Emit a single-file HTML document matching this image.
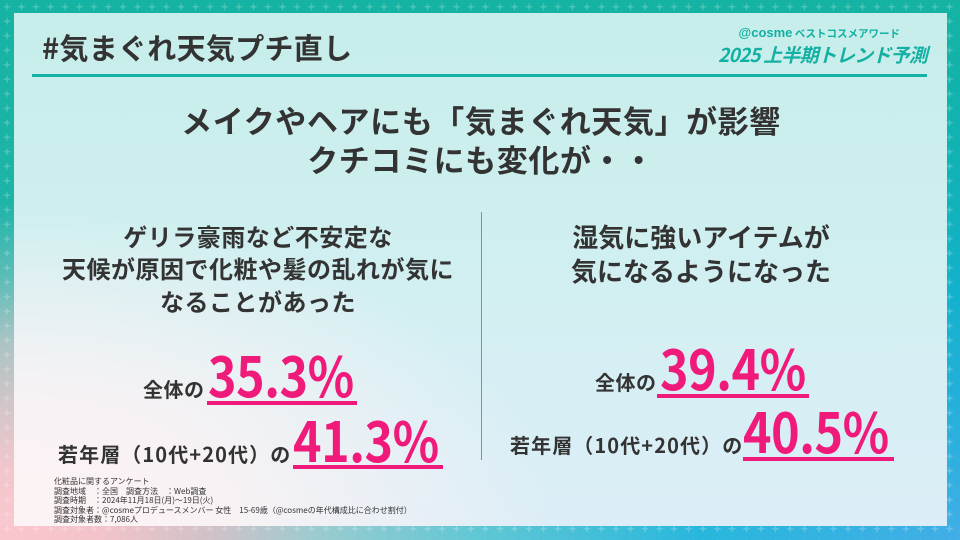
<!DOCTYPE html>
<html lang="ja">
<head>
<meta charset="utf-8">
<style>
  html,body{margin:0;padding:0;}
  body{width:960px;height:540px;position:relative;overflow:hidden;background:#15b3a3;
    font-family:"Liberation Sans","Noto Sans CJK JP",sans-serif;color:#333;}
  .b{position:absolute;}
  #btop{left:0;top:0;width:960px;height:14px;background:#15b3a3;}
  #bleft{left:0;top:0;width:15px;height:540px;background:linear-gradient(180deg,#15b3a3 0%,#1db4a7 37%,#5fbdb8 52%,#a9c4c4 63%,#cfc5c8 74%,#f2c6cc 87%,#fbc8ce 100%);}
  #bright{left:946px;top:0;width:14px;height:540px;background:linear-gradient(180deg,#15b3a3 0%,#10b2b4 30%,#14b1cd 55%,#2ab0dc 80%,#41aee6 100%);}
  #bbot{left:0;top:525px;width:960px;height:15px;background:linear-gradient(90deg,#fac6cd 0%,#f4c3ca 10%,#d0c2c8 22%,#9bcbd0 33%,#5fc7d4 50%,#28b7dc 73%,#41aee6 100%);}
  #spark{position:absolute;left:0;top:0;}
  #panel{position:absolute;left:14px;top:13px;width:933px;height:513px;overflow:hidden;
    background:linear-gradient(180deg,#c7eeeb 0%,#cdefee 35%,#d6eff4 70%,#dcedf7 100%);}
  #panel .ov{position:absolute;left:0;top:0;width:100%;height:100%;
    background:radial-gradient(ellipse 58% 62% at 0% 100%,rgba(253,243,244,1) 0%,rgba(253,243,244,0.85) 40%,rgba(253,243,244,0) 100%);}
  .jp{font-family:"Noto Sans CJK JP","Liberation Sans",sans-serif;font-weight:bold;white-space:nowrap;}
  .abs{position:absolute;}
  .pink{color:#ef1a7a;}
  .ul{position:absolute;height:4px;background:#ef1a7a;}
  .num{font-size:55px;line-height:55px;transform:scaleX(0.88);transform-origin:0 0;letter-spacing:-0.5px;}
  .lbl{font-size:20px;line-height:20px;letter-spacing:0.5px;}
  .lbl2{font-size:20px;line-height:20px;letter-spacing:1.1px;}
  .foot{position:absolute;left:54px;top:477px;font-family:"Noto Sans CJK JP","Liberation Sans",sans-serif;font-size:8px;line-height:9.5px;color:#333;white-space:nowrap;}
</style>
</head>
<body>
<div id="btop" class="b"></div>
<div id="bleft" class="b"></div>
<div id="bright" class="b"></div>
<div id="bbot" class="b"></div>
<svg id="spark" width="960" height="540" viewBox="0 0 960 540">
  <defs>
    <pattern id="st" x="0" y="0" width="14.5" height="14.5" patternUnits="userSpaceOnUse">
      <path d="M7 2.5 L8 5.8 L11.3 6.8 L8 7.8 L7 11.1 L6 7.8 L2.7 6.8 L6 5.8 Z" fill="#ffffff" fill-opacity="0.22"/>
    </pattern>
  </defs>
  <rect x="0" y="0" width="960" height="540" fill="url(#st)"/>
</svg>

<div id="panel"><div class="ov"></div></div>

<!-- header -->
<div class="abs jp" style="left:42px;top:32.5px;font-size:29px;line-height:29px;letter-spacing:0.3px;color:#333;">#気まぐれ天気プチ直し</div>
<div class="abs" style="left:32px;top:74px;width:895px;height:3px;background:#14b3a5;"></div>

<div class="abs jp" style="right:60px;top:27px;font-size:10.5px;line-height:12px;color:#14b0a3;"><span style="font-family:'Liberation Sans',sans-serif;font-size:13px;">@cosme</span> ベストコスメアワード</div>
<div class="abs jp" style="right:33px;top:45px;font-size:19px;line-height:19px;letter-spacing:-0.8px;color:#14b0a3;font-style:italic;">2025 上半期トレンド予測</div>

<!-- headline -->
<div class="abs jp" style="left:0;top:100px;width:962px;text-align:center;font-size:31px;line-height:39px;letter-spacing:0.6px;color:#333;">メイクやヘアにも「気まぐれ天気」が影響<br>クチコミにも変化が・・</div>

<!-- divider -->
<div class="abs" style="left:481px;top:212px;width:1px;height:248px;background:#2fb8ab;"></div>

<!-- left block -->
<div class="abs jp" style="left:58px;top:219.5px;width:400px;text-align:center;font-size:24px;line-height:32.5px;letter-spacing:0.5px;color:#333;">ゲリラ豪雨など不安定な<br>天候が原因で化粧や髪の乱れが気に<br>なることがあった</div>

<!-- right block -->
<div class="abs jp" style="left:551px;top:220px;width:300px;text-align:center;font-size:26px;line-height:34px;color:#333;">湿気に強いアイテムが<br>気になるようになった</div>

<!-- left stats -->
<div class="abs jp lbl" style="left:143px;top:378.5px;">全体の</div>
<div class="abs jp num pink" style="left:208px;top:345.5px;">35.3%</div>
<div class="ul" style="left:207px;top:401px;width:150px;"></div>

<div class="abs jp lbl2" style="left:58px;top:443.5px;">若年層（10代+20代）の</div>
<div class="abs jp num pink" style="left:293px;top:410.5px;">41.3%</div>
<div class="ul" style="left:293px;top:465px;width:150px;"></div>

<!-- right stats -->
<div class="abs jp lbl" style="left:595px;top:371.5px;">全体の</div>
<div class="abs jp num pink" style="left:660px;top:338.5px;">39.4%</div>
<div class="ul" style="left:657px;top:394px;width:152px;"></div>

<div class="abs jp lbl2" style="left:510px;top:434.5px;">若年層（10代+20代）の</div>
<div class="abs jp num pink" style="left:743px;top:401.5px;">40.5%</div>
<div class="ul" style="left:743px;top:457px;width:151px;"></div>

<!-- footnote -->
<div class="foot">化粧品に関するアンケート<br>調査地域　：全国　調査方法　：Web調査<br>調査時期　：2024年11月18日(月)～19日(火)<br>調査対象者：@cosmeプロデュースメンバー 女性　15-69歳（@cosmeの年代構成比に合わせ割付）<br>調査対象者数：7,086人</div>
</body>
</html>
